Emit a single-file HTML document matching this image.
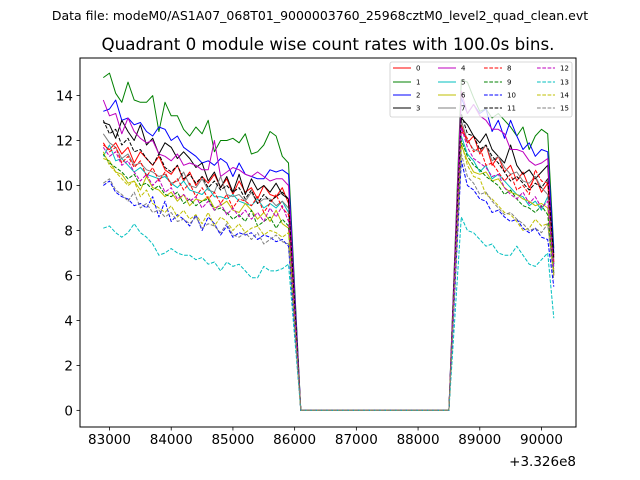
<!DOCTYPE html>
<html><head><meta charset="utf-8"><style>
html,body{margin:0;padding:0;background:#fff;}
svg{display:block;font-family:"DejaVu Sans","Liberation Sans",sans-serif;}
</style></head><body>
<svg id="chart" width="640" height="480" viewBox="0 0 640 480">
<rect x="0" y="0" width="640" height="480" fill="#fff"/>
<text x="320" y="20" font-size="12.5" text-anchor="middle">Data file: modeM0/AS1A07_068T01_9000003760_25968cztM0_level2_quad_clean.evt</text>
<text x="328" y="50" font-size="16.7" text-anchor="middle">Quadrant 0 module wise count rates with 100.0s bins.</text>
<g id="plot"></g>
</svg>
<script>
const seg1Times=[];for(let t=82900;t<=85900;t+=100)seg1Times.push(t);
const gapTimes=[86100,88500];
const seg2Times=[];for(let t=88700;t<=90200;t+=100)seg2Times.push(t);
const xTicks=[83000,84000,85000,86000,87000,88000,89000,90000];
const xTickLabels=["83000","84000","85000","86000","87000","88000","89000","90000"];
const yTicks=[0,2,4,6,8,10,12,14];
const seriesLabels=["0","1","2","3","4","5","6","7","8","9","10","11","12","13","14","15"];
const seg1_0=[11.8,11.6,11.9,11.4,11.7,11.0,11.5,11.2,10.9,11.3,10.7,10.5,10.9,10.2,10.6,10.0,10.4,10.1,10.5,9.9,10.3,9.6,10.2,9.7,9.9,9.4,10.0,9.6,9.5,9.9,9.2];
const seg2_0=[12.7,11.9,12.2,11.4,11.8,10.9,11.3,10.6,10.9,10.2,10.6,9.9,10.4,9.7,10.1,6.9];
const seg1_1=[14.8,15.0,14.1,13.7,14.6,13.8,13.7,13.7,14.0,12.4,13.7,13.1,13.1,12.5,12.2,12.6,12.3,12.9,11.5,12.0,12.0,12.1,11.9,12.3,11.4,11.5,11.8,12.4,12.2,11.3,11.0];
const seg2_1=[14.7,14.6,13.9,13.3,13.4,13.0,13.2,12.9,12.6,12.2,12.6,11.6,12.2,12.5,12.3,7.2];
const seg1_2=[13.3,13.4,13.8,12.9,13.0,12.7,12.8,12.4,12.2,12.6,12.5,12.0,12.2,11.7,11.5,11.3,11.0,11.1,10.9,11.2,11.0,10.4,11.0,10.5,10.4,10.3,10.3,10.7,10.6,10.7,10.5];
const seg2_2=[13.9,13.2,13.6,13.2,13.4,12.4,12.9,12.1,12.9,12.2,11.6,11.9,11.3,11.6,11.5,7.0];
const seg1_3=[12.8,12.7,12.1,12.9,12.4,12.0,12.7,11.8,12.1,11.4,11.9,11.7,11.2,11.5,11.2,10.8,11.0,10.2,10.6,9.9,10.4,9.7,10.5,9.6,10.3,9.8,10.0,9.7,10.1,9.6,9.4];
const seg2_3=[13.0,12.7,12.2,11.9,12.3,11.6,11.3,11.0,11.8,10.9,10.5,10.7,10.3,10.6,10.9,6.5];
const seg1_4=[13.8,13.1,13.2,12.3,13.0,12.4,12.1,11.9,12.0,11.4,11.3,11.1,11.4,10.9,11.0,10.9,10.7,10.7,12.0,10.4,10.6,10.8,10.7,10.5,10.4,10.6,10.4,10.2,10.3,10.3,10.0];
const seg2_4=[14.2,13.2,13.6,13.1,12.9,12.5,12.5,12.3,11.6,11.6,11.5,11.1,10.9,11.0,11.2,6.0];
const seg1_5=[11.3,11.8,11.1,11.2,10.9,10.6,10.8,10.5,10.4,10.3,10.4,10.1,9.9,10.2,9.8,9.7,9.6,9.9,9.5,9.5,9.4,9.6,9.3,9.2,9.1,9.4,9.0,9.2,9.0,9.3,8.8];
const seg2_5=[12.2,11.4,11.1,10.6,10.9,10.3,10.5,10.2,9.9,9.6,9.5,9.1,9.3,8.9,9.5,6.4];
const seg1_6=[11.2,11.1,10.6,10.5,10.1,10.2,9.8,10.4,9.9,9.8,9.5,9.7,9.3,9.6,9.1,9.4,9.3,9.5,9.0,9.1,9.3,8.9,8.8,9.2,8.9,8.5,8.8,8.4,8.9,8.3,8.1];
const seg2_6=[11.8,11.1,10.6,10.5,10.6,10.2,10.3,9.9,9.7,9.6,9.4,9.3,9.1,9.2,9.0,6.2];
const seg1_7=[12.3,11.9,11.7,11.2,11.4,10.9,11.0,10.7,10.6,10.4,10.5,10.1,10.2,10.6,10.0,9.9,10.3,9.8,9.7,10.4,9.6,9.5,9.6,9.3,9.7,9.2,9.4,9.4,9.1,9.3,9.0];
const seg2_7=[12.9,12.0,11.6,11.5,11.8,11.1,11.3,10.8,10.5,10.6,10.2,10.1,10.4,9.9,9.6,6.7];
const seg1_8=[11.9,11.5,11.7,11.0,11.3,10.8,11.1,10.4,10.8,10.2,10.6,10.0,10.3,9.8,10.1,9.5,9.9,9.4,9.7,9.2,9.6,9.0,9.4,9.3,9.1,9.5,8.8,9.2,9.6,9.0,8.7];
const seg2_8=[12.4,12.1,11.5,11.7,10.9,11.0,10.6,10.2,10.5,9.8,10.0,9.6,10.7,10.2,10.1,6.6];
const seg1_9=[11.4,11.0,10.8,10.6,10.3,10.5,10.0,10.1,9.8,10.0,9.6,9.5,9.7,9.2,9.4,9.1,9.3,9.4,8.9,9.0,8.8,8.5,8.7,8.4,8.9,8.2,8.4,8.6,8.1,8.5,8.2];
const seg2_9=[12.0,11.3,10.9,10.7,10.4,10.2,10.0,9.6,9.8,9.4,9.1,9.0,8.8,9.1,8.7,6.1];
const seg1_10=[10.0,10.2,9.7,9.5,9.4,9.1,9.2,9.0,9.5,8.6,9.3,8.4,8.7,8.5,8.2,8.7,8.0,8.6,8.3,7.8,8.2,7.7,7.9,7.8,7.9,7.6,7.8,7.7,7.5,7.6,7.3];
const seg2_10=[11.1,10.0,9.8,9.4,9.3,8.8,8.9,8.6,8.4,8.5,8.1,7.9,8.1,7.7,7.6,5.5];
const seg1_11=[12.9,12.3,12.5,11.8,12.1,11.5,11.6,11.2,10.9,11.4,10.8,10.6,10.9,10.3,10.5,10.1,10.4,9.9,10.2,9.8,10.0,9.7,9.9,9.4,9.8,9.2,9.6,9.3,9.5,9.7,9.4];
const seg2_11=[13.2,12.3,12.2,11.6,11.8,11.3,11.0,10.6,10.2,10.4,10.1,9.8,10.1,9.9,10.3,6.8];
const seg1_12=[11.7,11.3,11.5,10.9,11.1,10.6,10.2,10.5,10.0,10.3,9.7,9.9,9.4,9.6,9.3,9.5,9.0,9.3,8.9,9.2,8.7,9.0,8.6,8.9,8.5,8.8,8.4,9.0,8.6,9.1,8.4];
const seg2_12=[12.6,11.7,11.2,11.0,10.8,10.4,10.5,9.9,9.6,9.4,9.7,9.2,9.5,9.0,9.3,6.3];
const seg1_13=[8.1,8.2,7.9,7.7,7.9,8.3,7.9,7.7,7.4,6.9,7.0,7.2,7.0,6.9,6.9,6.7,6.8,6.5,6.6,6.2,6.6,6.4,6.5,6.2,5.9,5.9,6.4,6.2,6.2,6.3,6.5];
const seg2_13=[8.6,8.0,7.9,7.6,7.3,7.4,7.0,6.9,6.9,7.3,6.9,6.5,6.4,6.7,7.0,4.1];
const seg1_14=[11.5,10.9,10.6,10.3,10.0,10.2,9.5,9.8,9.2,9.0,8.8,9.1,8.6,8.9,8.5,8.7,8.3,8.8,8.2,8.6,8.4,8.0,8.3,7.9,8.1,8.2,7.8,8.0,7.9,7.7,7.9];
const seg2_14=[11.9,10.9,10.4,10.3,9.6,9.4,9.1,8.8,8.7,8.4,8.0,8.1,8.5,8.2,8.3,6.0];
const seg1_15=[10.1,10.3,9.8,9.6,9.3,9.7,9.0,9.2,8.8,8.9,8.6,8.8,8.4,8.5,8.3,8.6,8.1,8.3,8.2,7.9,8.3,7.8,7.7,7.9,7.6,7.9,7.4,7.6,7.8,7.5,7.4];
const seg2_15=[11.4,10.4,10.1,9.6,9.7,9.3,9.0,8.7,8.8,8.5,8.3,8.0,8.1,7.9,8.3,5.8];

const seg1All=[seg1_0,seg1_1,seg1_2,seg1_3,seg1_4,seg1_5,seg1_6,seg1_7,seg1_8,seg1_9,seg1_10,seg1_11,seg1_12,seg1_13,seg1_14,seg1_15];
const seg2All=[seg2_0,seg2_1,seg2_2,seg2_3,seg2_4,seg2_5,seg2_6,seg2_7,seg2_8,seg2_9,seg2_10,seg2_11,seg2_12,seg2_13,seg2_14,seg2_15];
const colors=["#ff0000","#008000","#0000ff","#000000","#bf00bf","#00bfbf","#bfbf00","#808080"];

const NS="http://www.w3.org/2000/svg";
const L=80,R=576,T=58,B=427;
const X0=82522,X1=90559,Y0=-0.74,Y1=15.67;
function xs(v){return L+(v-X0)/(X1-X0)*(R-L);}
function ys(v){return B-(v-Y0)/(Y1-Y0)*(B-T);}
const plot=document.getElementById('plot');
function mk(tag,attrs,parent){const e=document.createElementNS(NS,tag);for(const k in attrs)e.setAttribute(k,attrs[k]);(parent||plot).appendChild(e);return e;}

const lines=mk('g',{});


for(let i=0;i<16;i++){
  const pts=[];
  seg1Times.forEach((t,j)=>pts.push([t,seg1All[i][j]]));
  gapTimes.forEach(t=>pts.push([t,0]));
  seg2Times.forEach((t,j)=>pts.push([t,seg2All[i][j]]));
  const d=pts.map((p,k)=>(k?'L':'M')+xs(p[0]).toFixed(1)+','+ys(p[1]).toFixed(1)).join('');
  const a={d:d,fill:'none',stroke:colors[i%8],'stroke-width':1,'stroke-linejoin':'round'};
  if(i>=8)a['stroke-dasharray']='3.7,1.6';
  const p=mk('path',a,lines);
  
  
}
const frame=mk('rect',{x:L,y:T,width:R-L,height:B-T,fill:'none',stroke:'#000','stroke-width':1});



const xa=mk('g',{});


xTicks.forEach((v,i)=>{
  const x=xs(v);
  mk('line',{x1:x,x2:x,y1:B,y2:B+3.5,stroke:'#000','stroke-width':0.8},xa);
  const t=mk('text',{x:x,y:B+17,'font-size':13.5,'text-anchor':'middle'},xa);
  t.textContent=xTickLabels[i];
  
  
});
const off=mk('text',{x:576,y:466,'font-size':13.5,'text-anchor':'end'},xa);
off.textContent='+3.326e8';



const ya=mk('g',{});


yTicks.forEach(v=>{
  const y=ys(v);
  mk('line',{x1:L-3.5,x2:L,y1:y,y2:y,stroke:'#000','stroke-width':0.8},ya);
  const t=mk('text',{x:L-7,y:y+5,'font-size':13.5,'text-anchor':'end'},ya);
  t.textContent=String(v);
  
  
});

const lg=mk('g',{});


mk('rect',{x:390,y:62,width:182,height:55,rx:2,fill:'#fff','fill-opacity':0.8,stroke:'#ccc','stroke-width':0.8},lg);
const colX=[393,438,484,537];
const rowY=[68,82,95,108];
for(let i=0;i<16;i++){
  const c=Math.floor(i/4),r=i%4;
  const a={x1:colX[c],x2:colX[c]+18,y1:rowY[r],y2:rowY[r],stroke:colors[i%8],'stroke-width':1};
  if(i>=8)a['stroke-dasharray']='3.7,1.6';
  const ln=mk('line',a,lg);
  
  
  const t=mk('text',{x:colX[c]+23,y:rowY[r]+2.5,'font-size':7},lg);
  t.textContent=seriesLabels[i];
  
  
}
</script>
</body></html>
